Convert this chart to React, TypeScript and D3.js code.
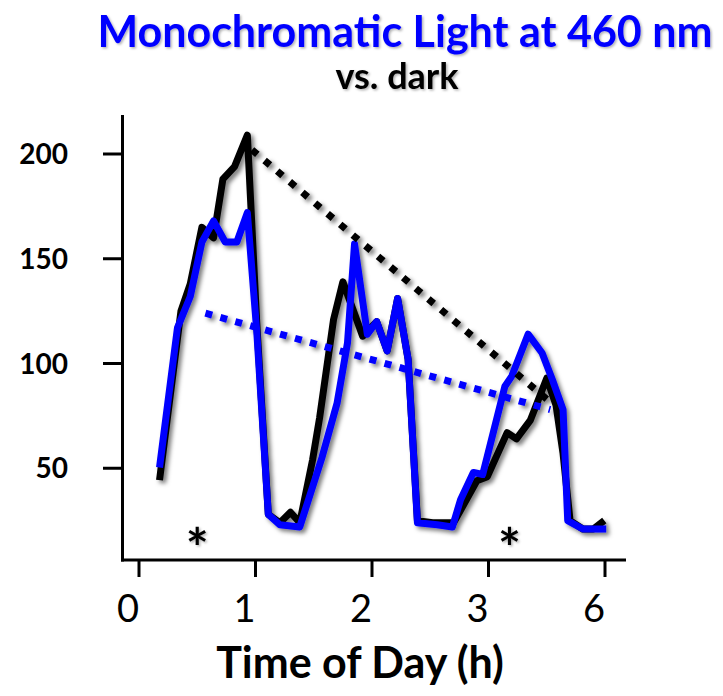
import React from "react";
import * as d3 from "d3";

const xTickValues = [0, 1, 2, 3, 4];
const xTickLabels = ["0", "1", "2", "3", "6"];
const yTickValues = [50, 100, 150, 200];

const darkX = [0.18, 0.36, 0.44, 0.54, 0.64, 0.72, 0.82, 0.93, 1.01, 1.11, 1.21, 1.3, 1.38, 1.49, 1.55, 1.67, 1.75, 1.92, 2.04, 2.13, 2.22, 2.31, 2.39, 2.52, 2.7, 2.78, 2.9, 2.99, 3.16, 3.24, 3.36, 3.5, 3.58, 3.64, 3.7, 3.81, 3.9, 3.97];
const darkY = [46, 125, 138, 165, 160, 188, 194, 209, 120, 28, 24, 29, 24, 54, 74, 121, 139, 113, 120, 106, 131, 102, 25, 24, 24, 32, 44, 46, 67, 64, 73, 93, 80, 57, 25, 21, 21, 24];

const blueX = [0.18, 0.33, 0.44, 0.54, 0.64, 0.74, 0.84, 0.93, 1.01, 1.11, 1.21, 1.38, 1.57, 1.7, 1.79, 1.85, 1.96, 2.04, 2.13, 2.22, 2.31, 2.39, 2.56, 2.69, 2.76, 2.87, 2.95, 3.14, 3.2, 3.34, 3.46, 3.55, 3.64, 3.68, 3.81, 3.9, 3.98];
const blueY = [52, 117, 132, 158, 168, 158, 158, 172, 116, 28, 23, 22, 55, 81, 110, 157, 114, 120, 106, 131, 102, 24, 23, 22, 35, 48, 47, 89, 94, 114, 105, 92, 78, 25, 21, 21, 21];

const darkTrendX = [0.97, 3.5];
const darkTrendY = [202, 83];
const blueTrendX = [0.57, 3.53];
const blueTrendY = [124, 78];

const starX = [0.5, 3.18];
const starY = [17, 17];

const W = 723;
const H = 696;

export default function App() {
  const x = d3.scaleLinear().domain([0, 4]).range([139, 605]);
  const y = d3.scaleLinear().domain([0, 200]).range([573, 154]);
  const line = d3
    .line<[number, number]>()
    .x((d) => x(d[0]))
    .y((d) => y(d[1]));
  const zip = (a: number[], b: number[]) => a.map((v, i) => [v, b[i]] as [number, number]);

  const font = "Lato, 'Open Sans', sans-serif";
  return (
    <svg
      width={W}
      height={H}
      style={{ position: "absolute", left: 0, top: 0, background: "#fff" }}
    >
      <defs>
        <filter id="sh" x="-20%" y="-20%" width="140%" height="140%">
          <feDropShadow dx="3" dy="3" stdDeviation="2.2" floodColor="#000" floodOpacity="0.5" />
        </filter>
        <filter id="tsh" x="-20%" y="-20%" width="140%" height="140%">
          <feDropShadow dx="1.5" dy="1.5" stdDeviation="1" floodColor="#000" floodOpacity="0.3" />
        </filter>
      </defs>
      <rect width={W} height={H} fill="#fff" />

      {/* titles */}
      <text x={405} y={47} textAnchor="middle" fontFamily={font} fontWeight={700} fontSize={43} fill="#0000ff" filter="url(#tsh)">
        Monochromatic Light at 460 nm
      </text>
      <text x={397} y={89} textAnchor="middle" fontFamily={font} fontWeight={700} fontSize={36} fill="#000" filter="url(#tsh)">
        vs. dark
      </text>

      {/* axes */}
      <line x1={122.5} x2={122.5} y1={115} y2={561.5} stroke="#000" strokeWidth={3} />
      <line x1={121} x2={626} y1={560} y2={560} stroke="#000" strokeWidth={3} />
      {yTickValues.map((v) => (
        <g key={"y" + v}>
          <line x1={103} x2={122} y1={y(v)} y2={y(v)} stroke="#000" strokeWidth={3} />
          <text x={68} y={y(v) + 10} textAnchor="end" fontFamily={font} fontWeight={700} fontSize={28} fill="#000">
            {v}
          </text>
        </g>
      ))}
      {xTickValues.map((v, i) => (
        <g key={"x" + v}>
          <line x1={x(v)} x2={x(v)} y1={560} y2={577} stroke="#000" strokeWidth={3} />
          <text x={x(v) - 11} y={622} textAnchor="middle" fontFamily={font} fontWeight={400} fontSize={38} fill="#000">
            {xTickLabels[i]}
          </text>
        </g>
      ))}
      <text x={360} y={678} textAnchor="middle" fontFamily={font} fontWeight={700} fontSize={43} fill="#000">
        Time of Day (h)
      </text>

      {/* data */}
      <g filter="url(#sh)" fill="none" strokeLinejoin="round">
        <path d={line(zip(darkX, darkY)) || ""} stroke="#000" strokeWidth={7} strokeLinecap="square" />
        <path d={line(zip(blueX, blueY)) || ""} stroke="#0000ff" strokeWidth={7} strokeLinecap="square" />
        <path d={line(zip(blueTrendX, blueTrendY)) || ""} stroke="#0000ff" strokeWidth={7} strokeDasharray="7 8.5" />
        <path d={line(zip(darkTrendX, darkTrendY)) || ""} stroke="#000" strokeWidth={7} strokeDasharray="7 9.5" />
      </g>
      {starX.map((sx, i) => (
        <text key={"s" + i} x={x(sx)} y={y(starY[i]) + 30} textAnchor="middle" fontFamily={font} fontWeight={700} fontSize={54} fill="#000" filter="url(#tsh)">
          *
        </text>
      ))}
    </svg>
  );
}
